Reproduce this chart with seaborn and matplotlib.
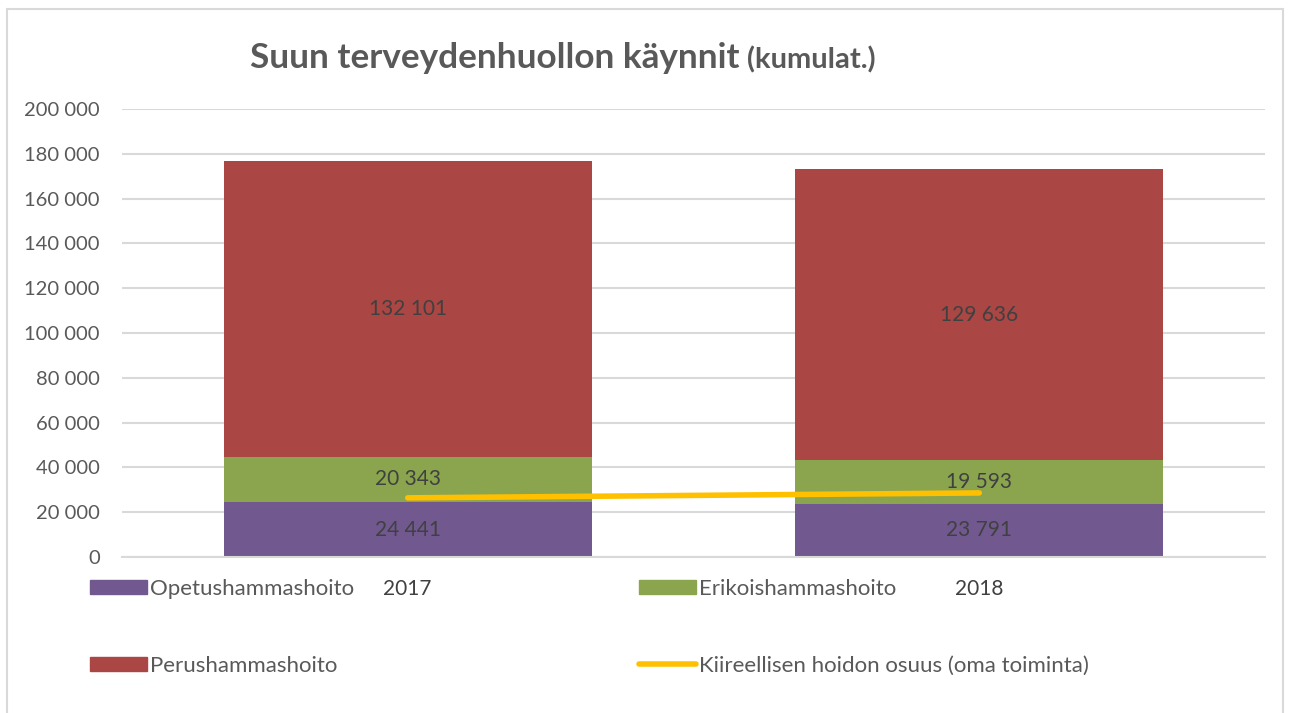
import numpy as np
import matplotlib
matplotlib.use("Agg")
import matplotlib.pyplot as plt
import seaborn as sns
from matplotlib.patches import Rectangle, Patch
from matplotlib.lines import Line2D

# data
years = ["2017", "2018"]
opetus = [24441, 23791]
erikois = [20343, 19593]
perus = [132101, 129636]
kiire_share = [0.132, 0.143]  # secondary axis, hidden

purple = "#71588F"
green = "#8BA54F"
red = "#AA4643"
yellow = "#FFC000"
grey_txt = "#595959"

sns.set_theme(style="white")
plt.rcParams["font.family"] = ["Lato", "DejaVu Sans"]

fig = plt.figure(figsize=(12.91, 7.13), dpi=100)
ax = fig.add_axes([122 / 1291, 156 / 713, (1265 - 122) / 1291, (557 - 109) / 713])

bw = 368 / 571.5
bottom2 = np.array(opetus)
bottom3 = bottom2 + np.array(erikois)

sns.barplot(x=years, y=opetus, color=purple, width=bw, errorbar=None,
            saturation=1, linewidth=0, ax=ax, zorder=2)
sns.barplot(x=years, y=erikois, bottom=bottom2, color=green, width=bw,
            errorbar=None, saturation=1, linewidth=0, ax=ax, zorder=2)
sns.barplot(x=years, y=perus, bottom=bottom3, color=red, width=bw,
            errorbar=None, saturation=1, linewidth=0, ax=ax, zorder=2)

for cont in ax.containers:
    ax.bar_label(cont, labels=[f"{int(v.get_height()):,}".replace(",", " ") for v in cont],
                 label_type="center", color="#404040", fontsize=15)

ax.set_ylim(0, 200000)
ax.set_xlim(-0.5, 1.5)
ax.set_yticks(np.arange(0, 200001, 20000))
ax.set_yticklabels([f"{v:,}".replace(",", " ") for v in range(0, 200001, 20000)])
ax.yaxis.grid(True, color="#D9D9D9", lw=1.5, zorder=0)
ax.set_axisbelow(True)
for s in ["top", "right", "left"]:
    ax.spines[s].set_visible(False)
ax.spines["bottom"].set_color("#D9D9D9")
ax.spines["bottom"].set_linewidth(1.5)
ax.tick_params(axis="y", length=0, pad=16, labelsize=14.5, labelcolor=grey_txt)
ax.tick_params(axis="x", which="major", length=0, pad=16, labelsize=15, labelcolor="#404040")
ax.set_xticks([-0.5, 0.5, 1.5], minor=True)
ax.tick_params(axis="x", which="minor", length=7, width=1.5, color="#D9D9D9", direction="out")
ax.set_xlabel("")
ax.set_ylabel("")

# line on hidden secondary axis
ax2 = ax.twinx()
sns.lineplot(x=np.arange(len(years)), y=kiire_share, color=yellow, lw=4,
             solid_capstyle="round", ax=ax2)
ax2.set_ylim(0, 1)
ax2.axis("off")

# legend
handles = [
    Patch(color=purple), Patch(color=red),
    Patch(color=green),
    Line2D([0], [0], color=yellow, lw=4, solid_capstyle="round"),
]
labels = ["Opetushammashoito", "Perushammashoito",
          "Erikoishammashoito", "Kiireellisen hoidon osuus (oma toiminta)"]
leg = fig.legend(handles, labels, ncol=2, loc="upper left",
                 bbox_to_anchor=(70 / 1291, 1 - 559 / 713), frameon=False,
                 fontsize=16, handlelength=2.57, handleheight=0.6,
                 handletextpad=0.15, labelspacing=2.55, columnspacing=12.8)
for t in leg.get_texts():
    t.set_color(grey_txt)

# title
t1 = fig.text(250 / 1291, 1 - 68 / 713, "Suun terveydenhuollon käynnit",
              fontsize=25.3, fontweight="bold", color=grey_txt, va="baseline")
fig.canvas.draw()
bb = t1.get_window_extent()
fig.text((bb.x1 + 8) / 1291, 1 - 68 / 713, "(kumulat.)", fontsize=21,
         fontweight="bold", color=grey_txt, va="baseline")

# chart border
fig.patches.append(Rectangle((7 / 1291, -0.01), 1276 / 1291, 1.01 - 9 / 713,
                             transform=fig.transFigure, fill=False,
                             edgecolor="#D9D9D9", lw=1.5))

fig.savefig("out.png", dpi=100)
